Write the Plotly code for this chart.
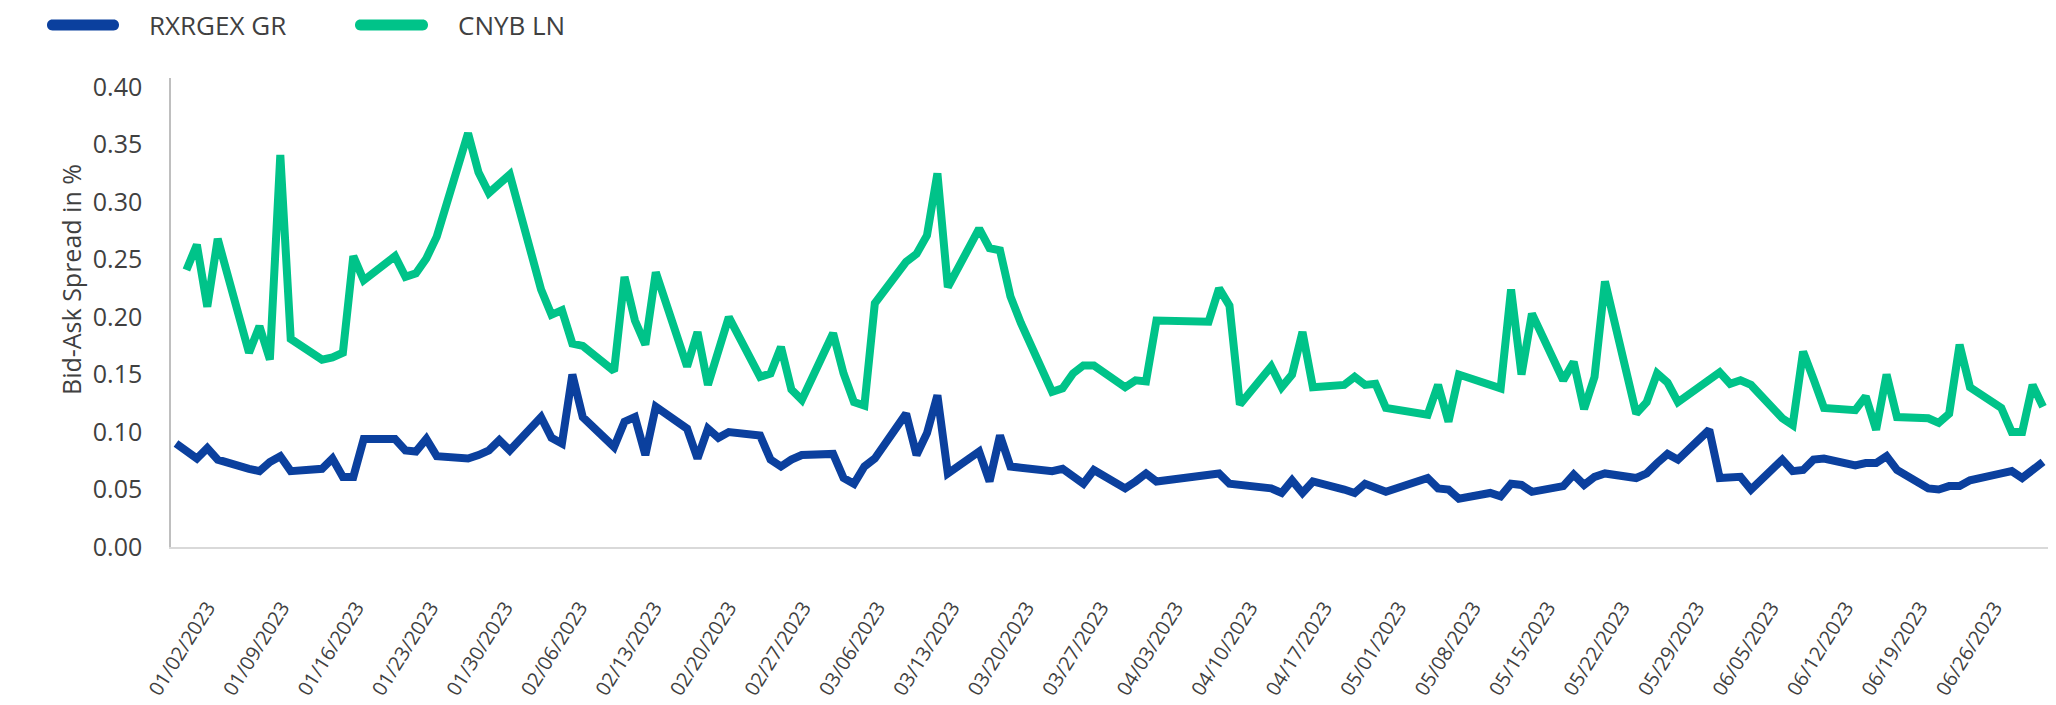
"""Bid-ask spread comparison, RXRGEX GR vs CNYB LN, H1 2023."""

import pandas as pd
import plotly.graph_objects as go

# trading days; Good Friday, Easter Monday and 1 May are closed for both lines
CLOSED = ["2023-04-07", "2023-04-10", "2023-05-01"]
DATES = [d for d in pd.bdate_range("2023-01-02", "2023-06-30") if d.strftime("%Y-%m-%d") not in CLOSED]

# bid-ask spread in %, one row per week (Mon..Fri)
RXRGEX_GR = [
    0.090, 0.083, 0.077, 0.086, 0.076,
    0.068, 0.066, 0.074, 0.079, 0.066,
    0.068, 0.077, 0.061, 0.061, 0.094,
    0.094, 0.084, 0.083, 0.094, 0.079,
    0.077, 0.080, 0.084, 0.093, 0.084,
    0.113, 0.095, 0.090, 0.150, 0.113,
    0.087, 0.109, 0.113, 0.080, 0.122,
    0.103, 0.077, 0.103, 0.095, 0.100,
    0.097, 0.076, 0.070, 0.076, 0.080,
    0.081, 0.060, 0.055, 0.070, 0.077,
    0.116, 0.080, 0.099, 0.132, 0.064,
    0.083, 0.057, 0.097, 0.070, 0.069,
    0.066, 0.068, 0.061, 0.055, 0.067,
    0.051, 0.057, 0.064, 0.057,
    0.063, 0.064, 0.055, 0.054,
    0.051, 0.047, 0.058, 0.047, 0.057,
    0.050, 0.047, 0.055, 0.051, 0.048,
    0.060, 0.051, 0.050, 0.042,
    0.047, 0.044, 0.055, 0.054, 0.048,
    0.053, 0.063, 0.054, 0.061, 0.064,
    0.060, 0.064, 0.073, 0.081, 0.076,
    0.102, 0.060, 0.060, 0.061, 0.050,
    0.076, 0.066, 0.067, 0.076, 0.077,
    0.071, 0.073, 0.073, 0.079, 0.067,
    0.051, 0.050, 0.053, 0.053, 0.058,
    0.064, 0.066, 0.060, 0.068, 0.074,
]

# None = London closed (2 Jan, 8 May, 29 May)
CNYB_LN = [
    None, 0.241, 0.263, 0.209, 0.268,
    0.169, 0.192, 0.163, 0.341, 0.181,
    0.163, 0.165, 0.169, 0.253, 0.232,
    0.253, 0.235, 0.238, 0.251, 0.270,
    0.360, 0.326, 0.308, 0.316, 0.324,
    0.224, 0.202, 0.206, 0.177, 0.175,
    0.153, 0.235, 0.197, 0.176, 0.239,
    0.157, 0.187, 0.141, 0.170, 0.200,
    0.148, 0.151, 0.174, 0.137, 0.128,
    0.186, 0.151, 0.126, 0.123, 0.212,
    0.248, 0.255, 0.271, 0.325, 0.226,
    0.277, 0.260, 0.258, 0.218, 0.195,
    0.135, 0.138, 0.151, 0.158, 0.158,
    0.139, 0.145, 0.144, 0.197,
    0.196, 0.225, 0.210, 0.124,
    0.157, 0.139, 0.150, 0.187, 0.139,
    0.141, 0.148, 0.141, 0.142, 0.121,
    0.115, 0.141, 0.109, 0.150,
    None, 0.138, 0.224, 0.150, 0.203,
    0.145, 0.161, 0.120, 0.148, 0.231,
    0.116, 0.126, 0.151, 0.143, 0.126,
    None, 0.152, 0.142, 0.145, 0.141,
    0.112, 0.106, 0.170, 0.146, 0.121,
    0.119, 0.131, 0.102, 0.150, 0.113,
    0.112, 0.108, 0.116, 0.176, 0.139,
    0.121, 0.100, 0.100, 0.141, 0.122,
]

TICK_LABELS = [
    "01/02/2023", "01/09/2023", "01/16/2023", "01/23/2023", "01/30/2023",
    "02/06/2023", "02/13/2023", "02/20/2023", "02/27/2023", "03/06/2023",
    "03/13/2023", "03/20/2023", "03/27/2023", "04/03/2023", "04/10/2023",
    "04/17/2023", "05/01/2023", "05/08/2023", "05/15/2023", "05/22/2023",
    "05/29/2023", "06/05/2023", "06/12/2023", "06/19/2023", "06/26/2023",
]
Y_TICKS = [0.00, 0.05, 0.10, 0.15, 0.20, 0.25, 0.30, 0.35, 0.40]

BLUE = "#0B409E"
GREEN = "#00C389"
GREY_TEXT = "#404040"
FONT = "Open Sans"

# the page body has an 8px margin, so the figure is drawn 8px in and 8px down
BODY = 8
W, H = 2056 - BODY, 705 - BODY
ML, MR, MT, MB = 171 - BODY, 4, 78 - BODY, 158
PW, PH = W - ML - MR, H - MT - MB


def _paper(x, y):
    """pixel position in the browser window -> paper coordinates"""
    return (x - BODY - ML) / PW, (H - MB - (y - BODY)) / PH


def _pill(x0, x1, yc, h):
    r = h / 2.0
    k = 4.0 / 3.0 * r
    pts = [
        (x0 + r, yc - r), (x1 - r, yc - r),
        (x1 - r + k, yc - r), (x1 - r + k, yc + r), (x1 - r, yc + r),
        (x0 + r, yc + r),
        (x0 + r - k, yc + r), (x0 + r - k, yc - r), (x0 + r, yc - r),
    ]
    p = ["%.5f,%.5f" % _paper(*pt) for pt in pts]
    return f"M{p[0]} L{p[1]} C{p[2]} {p[3]} {p[4]} L{p[5]} C{p[6]} {p[7]} {p[8]} Z"


fig = go.Figure()
fig.add_trace(go.Scatter(x=DATES, y=RXRGEX_GR, mode="lines", name="RXRGEX GR",
                         line=dict(color=BLUE, width=8), connectgaps=True))
fig.add_trace(go.Scatter(x=DATES, y=CNYB_LN, mode="lines", name="CNYB LN",
                         line=dict(color=GREEN, width=8), connectgaps=True))
# empty carrier so the label axis gets drawn
fig.add_trace(go.Scatter(x=list(range(len(TICK_LABELS))), y=[None] * len(TICK_LABELS),
                         xaxis="x2", mode="lines", hoverinfo="skip", showlegend=False))

fig.update_layout(
    width=W, height=H, autosize=False,
    margin=dict(l=ML, r=MR, t=MT, b=MB),
    plot_bgcolor="white", paper_bgcolor="white",
    showlegend=False,
    font=dict(family=FONT, color=GREY_TEXT),
    xaxis=dict(
        type="date",
        range=["2023-01-01 12:30", "2023-06-30 20:40"],
        showticklabels=False, ticks="",
        showline=True, linecolor="#D9D9D9", linewidth=2,
        showgrid=False, zeroline=False,
    ),
    # evenly spaced date labels, drawn on an overlay axis
    xaxis2=dict(
        overlaying="x", side="bottom", anchor="y",
        range=[-0.49, 24.77],
        tickmode="array", tickvals=list(range(len(TICK_LABELS))), ticktext=TICK_LABELS,
        tickangle=-58, tickfont=dict(size=20, color=GREY_TEXT),
        ticklabelstandoff=44,
        showline=False, showgrid=False, zeroline=False, ticks="",
    ),
    yaxis=dict(
        range=[0, 0.408],
        tickmode="array", tickvals=Y_TICKS, tickformat=".2f",
        tickfont=dict(size=25, color=GREY_TEXT),
        ticklabelstandoff=22,
        showline=True, linecolor="#BFBFBF", linewidth=1.5,
        showgrid=False, zeroline=False, ticks="",
    ),
)

# y title
tx, ty = _paper(52, 280)
fig.add_annotation(x=tx, y=ty, xref="paper", yref="paper", text="Bid-Ask Spread in %",
                   textangle=-90, showarrow=False, font=dict(size=25, color=GREY_TEXT))

# legend, top left
legend = [("RXRGEX GR", BLUE, 47, 119, 147), ("CNYB LN", GREEN, 355, 428, 456)]
for name, color, x0, x1, xt in legend:
    fig.add_shape(type="path", xref="paper", yref="paper", path=_pill(x0, x1, 25, 11),
                  fillcolor=color, line=dict(width=0))
    lx, ly = _paper(xt, 25)
    fig.add_annotation(x=lx, y=ly, xref="paper", yref="paper", text=name, showarrow=False,
                       xanchor="left", yanchor="middle", font=dict(size=26, color=GREY_TEXT))

fig.write_html("out.html")
